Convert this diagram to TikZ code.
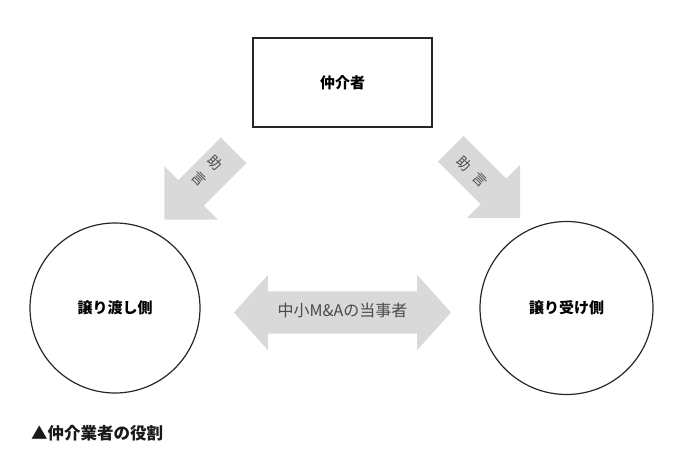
\documentclass[tikz,border=0pt]{standalone}
\usepackage{fontspec}
\setmainfont{Noto Sans CJK JP}
\usetikzlibrary{shapes.arrows}
\definecolor{arrowgray}{HTML}{D9D9D9}
\definecolor{labelgray}{HTML}{4A4A4A}

\begin{document}
\begin{tikzpicture}[x=1pt, y=-1pt,
  box/.style={draw=black!85, line width=1.4pt, minimum width=179pt, minimum height=89pt,
    font=\fontsize{15}{18}\selectfont\bfseries},
  party/.style={draw=black!85, line width=1.2pt, circle, inner sep=0pt,
    font=\fontsize{15}{18}\selectfont\bfseries},
  advicearrow/.style={single arrow, fill=arrowgray, inner xsep=0pt, inner ysep=18pt,
    minimum height=98pt, minimum width=75pt, single arrow head extend=19.5pt,
    single arrow tip angle=90},
  advice/.style={text=labelgray, inner sep=0pt, rotate=-45, align=center,
    font=\fontsize{14}{23}\selectfont},
  bothways/.style={double arrow, fill=arrowgray, text=labelgray, inner xsep=0pt,
    text height=11pt, text depth=3pt, inner ysep=14pt,
    minimum height=217pt, minimum width=75pt, double arrow head extend=16.5pt,
    double arrow tip angle=96, font=\fontsize{16}{18}\selectfont}]
  \useasboundingbox (0,0) rectangle (696,457);

  % Mediator
  \node[box] (mediator) at (342.5,82.5) {仲介者};

  % Two parties
  \node[party, minimum size=170pt] (seller) at (115,308) {譲り渡し側};
  \node[party, minimum size=173pt] (buyer) at (566.5,308) {譲り受け側};

  % Advice arrows
  \node[advicearrow, rotate=-135] (adviceLarrow) at (205.5,178.5) {};
  \node[advicearrow, rotate=-45] (adviceRarrow) at (479,177) {};
  \node[advice] (adviceL) at (207.5,171) {助\\言};
  \node[advice] (adviceR) at (472.5,172) {助\hspace{9pt}言};

  % Both parties
  \node[bothways] (parties) at (342.5,312.5) {中小M\&Aの当事者};

  % Caption
  \node[anchor=west, inner sep=0pt, text=black!90,
    font=\fontsize{16.5}{18}\selectfont\bfseries] (caption) at (31,433) {▲仲介業者の役割};
\end{tikzpicture}
\end{document}
